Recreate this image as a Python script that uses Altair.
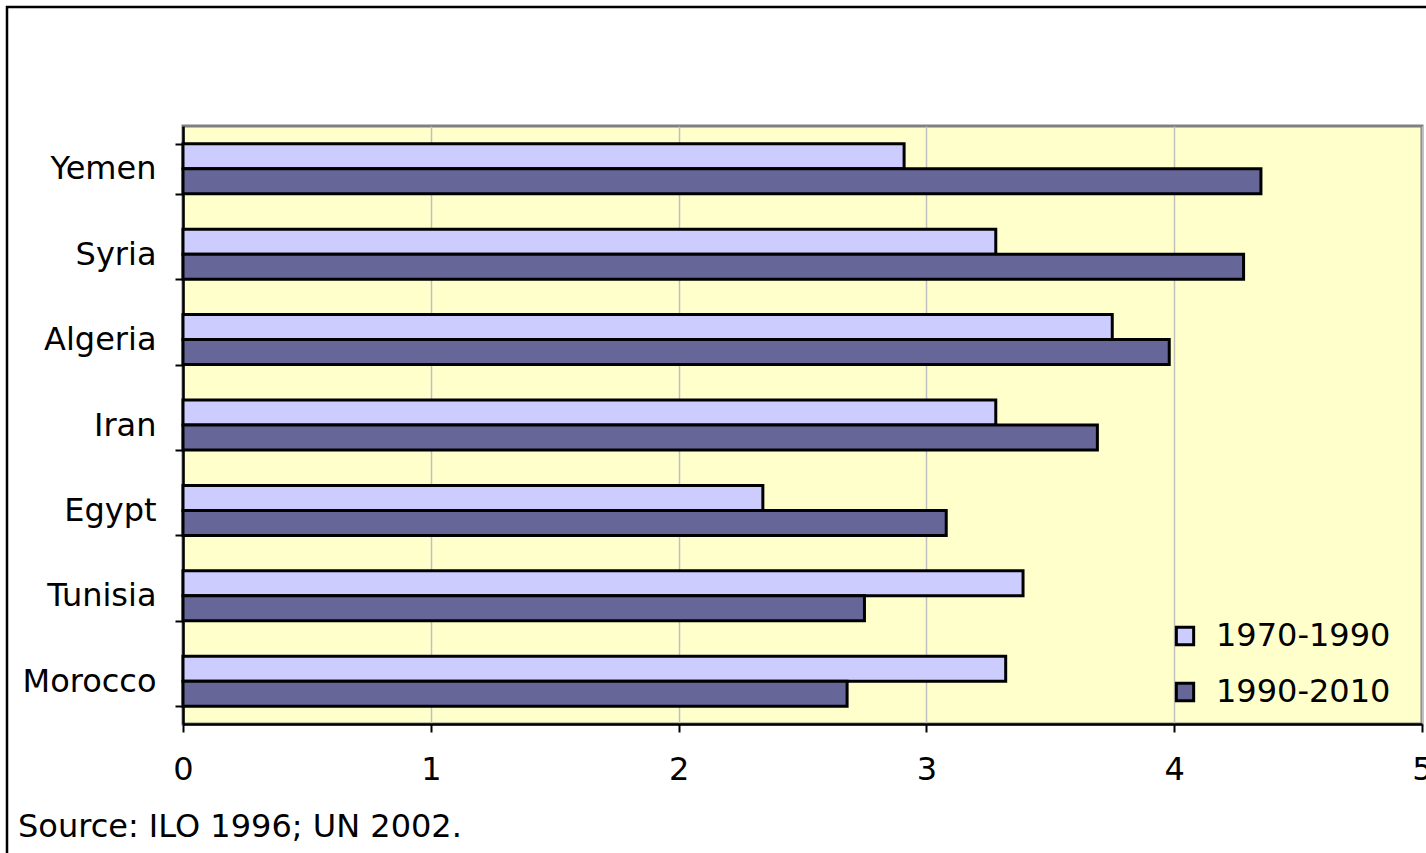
import altair as alt
import pandas as pd

countries = ["Yemen", "Syria", "Algeria", "Iran", "Egypt", "Tunisia", "Morocco"]
periods = ["1970-1990", "1990-2010"]
growth_1970_1990 = [2.91, 3.28, 3.75, 3.28, 2.34, 3.39, 3.32]
growth_1990_2010 = [4.35, 4.28, 3.98, 3.69, 3.08, 2.75, 2.68]
x_ticks = [0, 1, 2, 3, 4, 5]
source_note = "Source: ILO 1996; UN 2002."

rows = []
for c, a, b in zip(countries, growth_1970_1990, growth_1990_2010):
    rows.append({"country": c, "period": periods[0], "value": a})
    rows.append({"country": c, "period": periods[1], "value": b})
df = pd.DataFrame(rows)

FONT = "DejaVu Sans"
FS = 32
W, H = 1239, 598

bars = alt.Chart(df).mark_bar(stroke="black", strokeWidth=3, cornerRadius=0).encode(
    x=alt.X(
        "value:Q",
        scale=alt.Scale(domain=[0, 5], nice=False, zero=True),
        axis=alt.Axis(
            values=x_ticks, format="d", title=None, grid=True, gridColor="#C0C0C0",
            gridWidth=1.5, domainColor="black", domainWidth=2.5, tickColor="black",
            tickWidth=2, tickSize=8, labelFontSize=FS, labelFont=FONT, labelColor="black",
            labelPadding=22, labelFlush=False,
        ),
    ),
    y=alt.Y(
        "country:N",
        sort=countries,
        scale=alt.Scale(paddingInner=0.415, paddingOuter=0.2075),
        axis=alt.Axis(
            title=None, domainColor="black", domainWidth=2.5, tickColor="black",
            tickWidth=2, tickSize=8, tickBand="extent", labelFontSize=FS, labelFont=FONT,
            labelColor="black", labelPadding=19, labelLimit=300,
        ),
    ),
    yOffset=alt.YOffset("period:N", sort=periods, scale=alt.Scale(paddingInner=0, paddingOuter=0)),
    fill=alt.Fill(
        "period:N",
        sort=periods,
        scale=alt.Scale(domain=periods, range=["#CCCCFF", "#666699"]),
        legend=alt.Legend(
            title=None, orient="none", legendX=986, legendY=494, symbolType="square",
            symbolSize=300, symbolStrokeColor="black", symbolStrokeWidth=3,
            labelFontSize=FS, labelFont=FONT, labelColor="black", rowPadding=24,
            labelOffset=15, symbolOffset=0, labelLimit=400,
        ),
    ),
)

note = alt.Chart(pd.DataFrame({"t": [source_note]})).mark_text(
    align="left", baseline="middle", fontSize=FS, font=FONT, color="black"
).encode(x=alt.value(-165), y=alt.value(701), text="t:N")

frame = alt.Chart(pd.DataFrame({"t": [0]})).mark_rect(
    filled=False, stroke="black", strokeWidth=2.5
).encode(x=alt.value(-176), x2=alt.value(1400), y=alt.value(-119), y2=alt.value(900))

chart = alt.layer(frame, bars, note).properties(
    width=W, height=H,
    autosize=alt.AutoSizeParams(type="none"),
    padding={"left": 183, "top": 126, "right": 4, "bottom": 129},
    background="white",
).configure_view(fill="#FFFFCC", stroke="#808080", strokeWidth=3)

chart.save("out.html", embed_options={"renderer": "svg", "actions": False})
